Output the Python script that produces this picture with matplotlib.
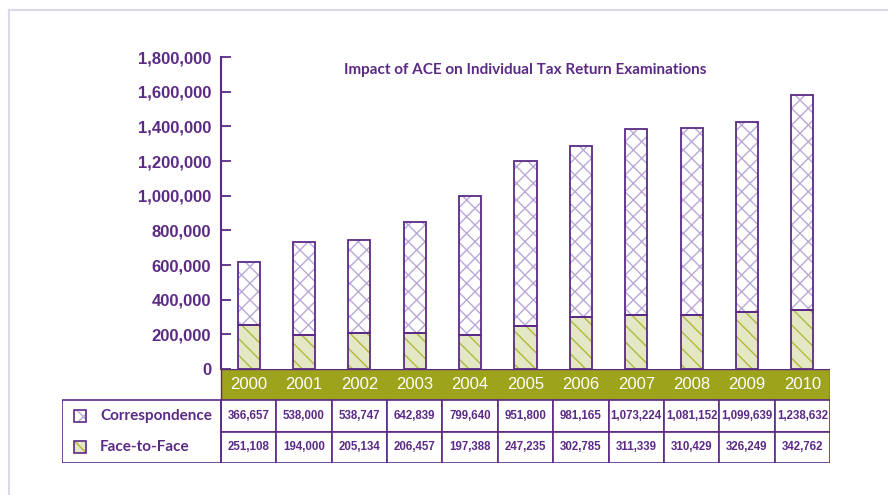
import matplotlib
matplotlib.use('Agg')
import matplotlib.pyplot as plt
from matplotlib.patches import Rectangle
from matplotlib.lines import Line2D
from matplotlib.ticker import FuncFormatter

years = ['2000', '2001', '2002', '2003', '2004', '2005', '2006', '2007', '2008', '2009', '2010']
correspondence = [366657, 538000, 538747, 642839, 799640, 951800, 981165,
                  1073224, 1081152, 1099639, 1238632]
face_to_face = [251108, 194000, 205134, 206457, 197388, 247235, 302785,
                311339, 310429, 326249, 342762]
y_ticks = [0, 200000, 400000, 600000, 800000, 1000000, 1200000, 1400000, 1600000, 1800000]
series_names = ['Correspondence', 'Face-to-Face']
title = 'Impact of ACE on Individual Tax Return Examinations'

purple = '#5b2a86'
olive = '#9da31b'
corr_hatch = '#b9a8d8'
ftf_fill = '#e4e7c3'
ftf_hatch = '#b0b83a'
frame_col = '#dcd8ea'

plt.rcParams['font.family'] = ['Liberation Sans', 'DejaVu Sans']
plt.rcParams['hatch.linewidth'] = 1.0
narrow = ['Lato', 'DejaVu Sans']

W, H = 888, 495
fig = plt.figure(figsize=(W / 100, H / 100), dpi=100)


def box(x0, y0, x1, y1):
    # pixel box (top-left origin) -> figure fraction
    return [x0 / W, 1 - y1 / H, (x1 - x0) / W, (y1 - y0) / H]


# outer frame (top + left only visible)
fig.add_artist(Line2D([9 / W, 9 / W], [1 - 10 / H, 0], color=frame_col, lw=1.5, transform=fig.transFigure))
fig.add_artist(Line2D([9 / W, 1], [1 - 10 / H, 1 - 10 / H], color=frame_col, lw=1.5, transform=fig.transFigure))

# bar chart
ax = fig.add_axes(box(221, 57, 830, 369))
x = list(range(len(years)))
bw = 0.4
ax.bar(x, face_to_face, bw, color=ftf_fill, edgecolor=ftf_hatch, hatch='\\\\', lw=0)
ax.bar(x, correspondence, bw, bottom=face_to_face, color='white', edgecolor=corr_hatch, hatch='xx', lw=0)
ax.bar(x, face_to_face, bw, fill=False, edgecolor=purple, lw=1.3)
ax.bar(x, correspondence, bw, bottom=face_to_face, fill=False, edgecolor=purple, lw=1.3)

ax.set_xlim(-0.5, 10.5)
ax.set_ylim(0, 1800000)
ax.set_yticks(y_ticks)
ax.yaxis.set_major_formatter(FuncFormatter(lambda v, p: f'{v:,.0f}'))
ax.set_xticks([])
for s in ['top', 'right', 'bottom']:
    ax.spines[s].set_visible(False)
ax.spines['left'].set_color(purple)
ax.spines['left'].set_linewidth(1.5)
ax.tick_params(axis='y', direction='in', length=7, width=1.3, color=purple,
               labelcolor=purple, labelsize=12, pad=7)
for lbl in ax.get_yticklabels():
    lbl.set_fontweight('bold')
ax.patch.set_visible(False)

fig.text(525 / W, 1 - 70 / H, title, ha='center', va='center', fontsize=11,
         fontweight='bold', color=purple, family=narrow)

# data table under the bars
tab = fig.add_axes(box(62, 369, 830, 463))
step = 609 / 11
xl = -0.5 - (221 - 62) / step
tab.set_xlim(xl, 10.5)
tab.set_ylim(-2, 1)
tab.axis('off')

tab.add_patch(Rectangle((-0.5, 0), 11, 1, fc=olive, ec=purple, lw=1.0))
for i, yr in enumerate(years):
    tab.text(i, 0.5, yr, ha='center', va='center', color='white', fontsize=12)

for row, vals in zip([-1, -2], [correspondence, face_to_face]):
    for i, v in enumerate(vals):
        tab.add_patch(Rectangle((i - 0.5, row), 1, 1, fc='white', ec=purple, lw=1.2))
        tab.text(i, row + 0.5, f'{v:,}', ha='center', va='center', color=purple,
                 fontsize=8.3, fontweight='bold')

# legend column
tab.add_patch(Rectangle((xl, -2), -0.5 - xl, 2, fill=False, ec=purple, lw=1.2))
sw, sh = 12 / step, 12 / 31.3
sx = xl + 12 / step
tab.add_patch(Rectangle((sx, -0.5 - sh / 2), sw, sh, fc='white', ec=corr_hatch, hatch='x', lw=0))
tab.add_patch(Rectangle((sx, -0.5 - sh / 2), sw, sh, fill=False, ec=purple, lw=1.2))
tab.add_patch(Rectangle((sx, -1.5 - sh / 2), sw, sh, fc=ftf_fill, ec=ftf_hatch, hatch='\\', lw=0))
tab.add_patch(Rectangle((sx, -1.5 - sh / 2), sw, sh, fill=False, ec=purple, lw=1.2))
for row, name in zip([-0.5, -1.5], series_names):
    tab.text(xl + 38 / step, row, name, ha='left', va='center', color=purple,
             fontsize=11, fontweight='bold', family=narrow)

fig.savefig('out.png', dpi=100)
